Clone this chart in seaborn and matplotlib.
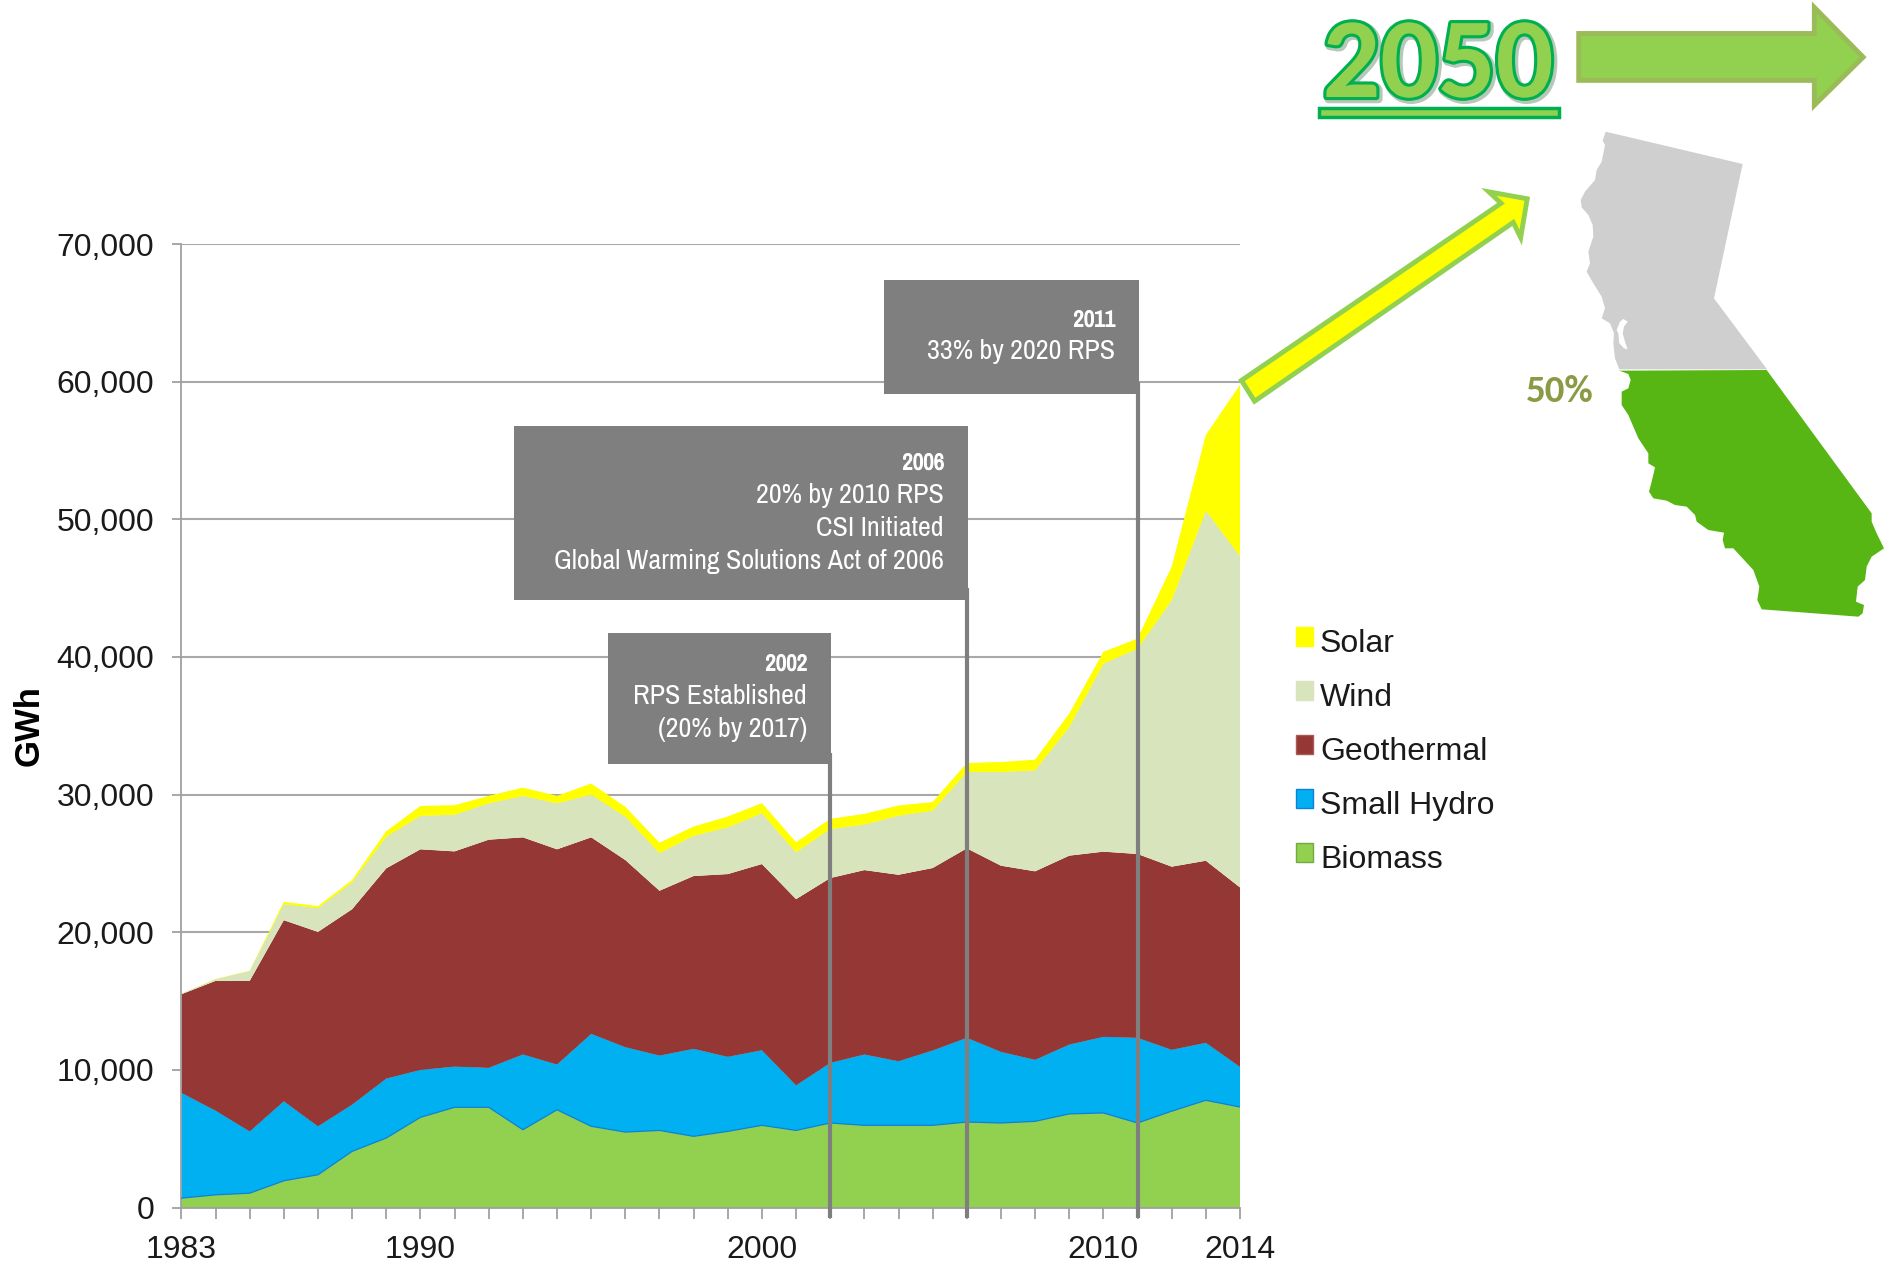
import numpy as np
import pandas as pd
import matplotlib
matplotlib.use('Agg')
import matplotlib.pyplot as plt
import matplotlib.patheffects as pe
from matplotlib.patches import Patch, Polygon, Rectangle
import seaborn as sns
import seaborn.objects as so

sns.set_theme(style='white')
plt.rcParams['font.family'] = ['Liberation Sans', 'DejaVu Sans']

# GWh per source, 1983-2014
years = list(range(1983, 2015))
biomass = [680, 920, 1040, 1940, 2380, 4080, 5050, 6550, 7280, 7280, 5650, 7100, 5900, 5480, 5600, 5170,
           5530, 5970, 5600, 6140, 5970, 5970, 5970, 6210, 6140, 6260, 6800, 6870, 6140, 7000, 7790, 7300]
small_hydro = [7650, 6120, 4490, 5780, 3520, 3400, 4320, 3450, 2960, 2870, 5470, 3290, 6720, 6170, 5440, 6360,
               5420, 5460, 3280, 4370, 5150, 4660, 5440, 6120, 5170, 4470, 5040, 5530, 6190, 4460, 4180, 2920]
geothermal = [7160, 9420, 10930, 13150, 14120, 14190, 15270, 16020, 15630, 16570, 15770, 15630, 14270, 13590, 11970, 12550,
              13270, 13520, 13520, 13420, 13390, 13540, 13250, 13760, 13520, 13690, 13720, 13450, 13350, 13300, 13220, 13030]
wind = [40, 120, 720, 1170, 1730, 1950, 2300, 2430, 2670, 2650, 3010, 3350, 3110, 3160, 2740, 2930,
        3400, 3690, 3400, 3570, 3310, 4300, 4170, 5550, 6810, 7340, 9350, 13660, 14920, 19360, 25430, 24070]
solar = [0, 20, 20, 160, 140, 170, 390, 720, 680, 530, 600, 530, 800, 700, 750, 660,
         780, 730, 730, 730, 770, 730, 620, 650, 720, 770, 970, 850, 730, 2430, 5500, 12440]

sources = ['Biomass', 'Small Hydro', 'Geothermal', 'Wind', 'Solar']
source_colors = ['#92D050', '#00B0F0', '#953735', '#D8E4BC', '#FFFF00']
legend_edges = ['#76A840', '#0F80D8', '#A85A58', '#D8E4BC', '#FFFF00']
y_ticks = [0, 10000, 20000, 30000, 40000, 50000, 60000, 70000]
labelled_years = [1983, 1990, 2000, 2010, 2014]

# policy boxes: year of the line, height it climbs to, heading, body lines
policy_years = [2002, 2006, 2011]
policy_tops = [33000, 45000, 60000]
policy_heads = ['2002', '2006', '2011']
policy_bodies = [['RPS Established', '(20% by 2017)'],
                 ['20% by 2010 RPS', 'CSI Initiated', 'Global Warming Solutions Act of 2006'],
                 ['33% by 2020 RPS']]

df = pd.DataFrame({'year': years, 'Biomass': biomass, 'Small Hydro': small_hydro,
                   'Geothermal': geothermal, 'Wind': wind, 'Solar': solar})
long_df = df.melt(id_vars='year', var_name='source', value_name='gwh')
# stack order comes from row order
long_df['source'] = pd.Categorical(long_df['source'], sources, ordered=True)
long_df = long_df.sort_values(['source', 'year']).reset_index(drop=True)
long_df['source'] = long_df['source'].astype(str)

W, H = 1884, 1268
fig = plt.figure(figsize=(W / 100, H / 100), dpi=100, facecolor='white')
ax = fig.add_axes([181.4 / W, 1 - 1207.5 / H, (1240 - 181.4) / W, (1207.5 - 244) / H])

(so.Plot(long_df, x='year', y='gwh', color='source')
    .add(so.Area(alpha=1, edgewidth=0.6), so.Stack(), legend=False)
    .scale(color=so.Nominal(dict(zip(sources, source_colors))))
    .on(ax)
    .plot())

# thin darker blue seam on top of the biomass band
sns.lineplot(x=years, y=biomass, color='#0F80D8', lw=0.9, ax=ax, legend=False, zorder=5)

ax.set_xlim(1983, 2014)
ax.set_ylim(0, 70000)
ax.set_xlabel('')
ax.set_ylabel('GWh', fontsize=25, fontweight='bold', color='black', labelpad=8)
ax.set_facecolor('white')
ax.set_axisbelow(True)
ax.grid(False)
ax.grid(axis='y', color='#A8A8A8', lw=1.5)
ax.set_xticks(years)
ax.set_xticklabels([str(y) if y in labelled_years else '' for y in years])
ax.set_yticks(y_ticks)
ax.set_yticklabels([f'{v:,}' for v in y_ticks])
ax.tick_params(axis='x', length=8, width=1.3, color='#A0A0A0', labelsize=23, labelcolor='#1a1a1a', pad=12, bottom=True)
ax.tick_params(axis='y', length=6.5, width=1.3, color='#A0A0A0', labelsize=23, labelcolor='#1a1a1a', pad=13, left=True)
for side in ['top', 'right']:
    ax.spines[side].set_visible(False)
for side in ['left', 'bottom']:
    ax.spines[side].set_visible(True)
    ax.spines[side].set_color('#A0A0A0')
    ax.spines[side].set_linewidth(1.3)

for yr, top in zip(policy_years, policy_tops):
    ax.plot([yr, yr], [-780, top], color='#7F7F7F', lw=3, clip_on=False, zorder=6, solid_capstyle='butt')

handles = [Patch(facecolor=c, edgecolor=e, lw=1, label=s)
           for s, c, e in zip(sources, source_colors, legend_edges)][::-1]
leg = fig.legend(handles=handles, loc='upper left', bbox_to_anchor=(1296 / W, 1 - 629 / H), frameon=False,
                 fontsize=23, handlelength=0.53, handleheight=0.53, handletextpad=0.22, labelspacing=0.75,
                 borderpad=0, borderaxespad=0, labelcolor='#1a1a1a')
# markers sit a little above the text centre
for p in leg.get_patches():
    p.set_y(p.get_y() + 3)

# overlay in pixel coordinates for the presentation shapes around the chart
over = fig.add_axes([0, 0, 1, 1], zorder=10)
over.set_xlim(0, W)
over.set_ylim(H, 0)
over.axis('off')
over.patch.set_alpha(0)

narrow = ['Archivo Narrow', 'Liberation Sans']
box_rects = [(608, 633, 223, 131), (514, 426, 454, 174), (884, 280, 255, 114)]
head_y = [664.5, 463.5, 320.5]
body_y = [697, 495, 352]
for (x, y, w, h), head, body, hy, by in zip(box_rects, policy_heads, policy_bodies, head_y, body_y):
    over.add_patch(Rectangle((x, y), w, h, facecolor='#7F7F7F', edgecolor='none'))
    head_txt = over.text(x + w - 24, hy, head, color='white', ha='right', va='center', fontsize=16.5,
                         fontweight='bold', family=narrow)
    # the narrow family only has one weight here, so thicken it
    head_txt.set_path_effects([pe.withStroke(linewidth=0.7, foreground='white')])
    for i, line in enumerate(body):
        over.text(x + w - 24, by + i * 33, line, color='white', ha='right', va='center', fontsize=20.2, family=narrow)


def crop(points, x0, y0, sx=3.0, sy=3.0):
    # outlines were traced on zoomed crops of the right hand side
    return [(x0 + px / sx, y0 + py / sy) for px, py in points]


cal_north = [(137, 35), (548, 132), (462, 535), (621, 748), (178, 748), (165, 715), (160, 670), (162, 640),
             (150, 610), (125, 595), (135, 565), (125, 530), (100, 490), (80, 455), (90, 430), (85, 395),
             (100, 350), (98, 315), (85, 285), (65, 262), (62, 240), (75, 215), (105, 180), (110, 150),
             (125, 125), (135, 75), (128, 62)]
cal_bay = [(180, 605), (190, 597), (203, 605), (192, 620), (188, 640), (195, 665), (203, 688), (192, 685),
           (178, 670), (175, 640), (170, 630)]
cal_south = [(178, 62), (620, 60), (935, 490), (935, 515), (950, 550), (972, 595), (935, 620), (920, 650),
             (915, 690), (893, 710), (888, 755), (912, 765), (908, 790), (895, 800), (605, 778), (592, 750),
             (598, 710), (580, 660), (520, 595), (495, 595), (488, 570), (492, 548), (445, 540), (410, 515),
             (405, 495), (380, 470), (345, 465), (320, 452), (280, 445), (267, 425), (275, 395), (285, 352),
             (265, 340), (265, 310), (235, 265), (205, 195), (185, 165), (185, 125), (205, 115), (212, 90),
             (205, 72)]
big_arrow = [(868, 82), (1408, 82), (1408, 18), (1520, 140), (1408, 258), (1408, 197), (868, 197)]
yellow_arrow = [(95, 932), (690, 498), (662, 470), (750, 487), (735, 582), (718, 545), (125, 983)]

over.add_patch(Polygon(crop(cal_north, 1560, 120), facecolor='#CFCFCF', edgecolor='none'))
over.add_patch(Polygon(crop(cal_bay, 1560, 120), facecolor='white', edgecolor='none'))
over.add_patch(Polygon(crop(cal_south, 1560, 350), facecolor='#58B614', edgecolor='none'))
over.add_patch(Polygon(crop(big_arrow, 1200, 0, 2.292, 2.45), facecolor='#92D050', edgecolor='#9BBB59', lw=3.5,
                       joinstyle='miter'))
over.add_patch(Polygon(crop(yellow_arrow, 1200, 0, 2.292, 2.45), facecolor='#FFFF00', edgecolor='#92D050', lw=3.5,
                       joinstyle='miter'))

calibri_like = ['Carlito', 'Lato']
over.text(1560, 392, '50%', color='#8A9A45', ha='center', va='center', fontsize=28, fontweight='bold',
          family=calibri_like)

title = over.text(1438, 66, '2050', color='#92D050', ha='center', va='center', fontsize=82, fontweight='bold',
                  family=calibri_like)
title.set_path_effects([pe.Stroke(linewidth=6, foreground='#B8C8B8', offset=(1.5, -1.5)),
                        pe.Stroke(linewidth=4.5, foreground='#00B050'), pe.Normal()])
over.add_patch(Rectangle((1319, 108), 240, 9, facecolor='#92D050', edgecolor='#00B050', lw=2.5))

fig.savefig('out.png', dpi=100)
